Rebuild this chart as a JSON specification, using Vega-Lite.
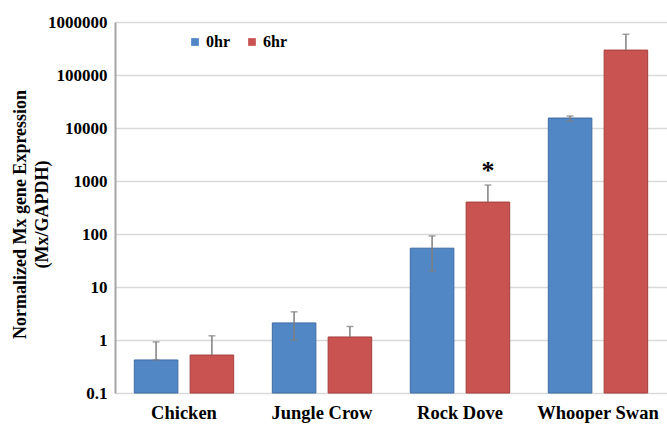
{
  "$schema": "https://vega.github.io/schema/vega-lite/v6.json",
  "width": 552,
  "height": 371,
  "autosize": "none",
  "padding": {"left": 115, "top": 22, "right": 0, "bottom": 32},
  "background": "white",
  "config": {
    "font": "Liberation Serif",
    "view": {"stroke": null}
  },
  "data": {
    "values": [
      {"species": "Chicken", "time": "0hr", "value": 0.42, "hi": 0.92, "lo": 0.42, "sig": ""},
      {"species": "Chicken", "time": "6hr", "value": 0.52, "hi": 1.2, "lo": null, "sig": ""},
      {"species": "Jungle Crow", "time": "0hr", "value": 2.1, "hi": 3.4, "lo": 1.0, "sig": ""},
      {"species": "Jungle Crow", "time": "6hr", "value": 1.14, "hi": 1.8, "lo": null, "sig": ""},
      {"species": "Rock Dove", "time": "0hr", "value": 54, "hi": 92, "lo": 20, "sig": ""},
      {"species": "Rock Dove", "time": "6hr", "value": 400, "hi": 840, "lo": null, "sig": "*"},
      {"species": "Whooper Swan", "time": "0hr", "value": 15400, "hi": 16800, "lo": 13500, "sig": ""},
      {"species": "Whooper Swan", "time": "6hr", "value": 295000, "hi": 590000, "lo": null, "sig": ""}
    ]
  },
  "encoding": {
    "x": {
      "field": "species",
      "type": "nominal",
      "sort": null,
      "scale": {"paddingInner": 0.28, "paddingOuter": 0.14},
      "axis": {
        "title": null,
        "labelAngle": 0,
        "labelFont": "Liberation Serif",
        "labelFontWeight": "bold",
        "labelFontSize": 18.5,
        "labelColor": "black",
        "labelPadding": 10,
        "ticks": false,
        "domain": false
      }
    },
    "xOffset": {
      "field": "time",
      "type": "nominal",
      "scale": {"paddingInner": 0.22, "paddingOuter": 0}
    }
  },
  "layer": [
    {
      "mark": {"type": "bar", "strokeWidth": 1},
      "encoding": {
        "y": {
          "field": "value",
          "type": "quantitative",
          "scale": {"type": "log", "domain": [0.1, 1000000], "nice": false},
          "axis": {
            "values": [0.1, 1, 10, 100, 1000, 10000, 100000, 1000000],
            "format": "~f",
            "title": ["Normalized Mx gene Expression", "(Mx/GAPDH)"],
            "titleFont": "Liberation Serif",
            "titleFontWeight": "bold",
            "titleFontSize": 18,
            "titleColor": "black",
            "titleAngle": -90,
            "titleX": -90,
            "titleY": 192,
            "titleAlign": "center",
            "titleBaseline": "alphabetic",
            "titleLineHeight": 22,
            "labelFont": "Liberation Serif",
            "labelFontWeight": "bold",
            "labelFontSize": 17,
            "labelColor": "black",
            "labelPadding": 8,
            "ticks": false,
            "grid": true,
            "gridColor": "#d9d9d9",
            "gridWidth": 1.5,
            "domain": true,
            "domainColor": "#a6a6a6",
            "domainWidth": 2
          }
        },
        "y2": {"datum": 0.1},
        "color": {
          "field": "time",
          "type": "nominal",
          "scale": {"domain": ["0hr", "6hr"], "range": ["#5287c6", "#c95350"]},
          "legend": {
            "title": null,
            "orient": "none",
            "legendX": 72,
            "legendY": 12,
            "direction": "horizontal",
            "symbolType": "square",
            "symbolSize": 60,
            "symbolStrokeWidth": 0,
            "labelFont": "Liberation Serif",
            "labelFontWeight": "bold",
            "labelFontSize": 16,
            "labelColor": "black",
            "labelOffset": 3,
            "columnPadding": 14
          }
        },
        "stroke": {
          "field": "time",
          "type": "nominal",
          "scale": {"domain": ["0hr", "6hr"], "range": ["#3d6aa3", "#a53d3b"]},
          "legend": null
        }
      }
    },
    {
      "mark": {"type": "rule", "color": "#7f7f7f", "strokeWidth": 1.5},
      "encoding": {
        "y": {"field": "value", "type": "quantitative"},
        "y2": {"field": "hi"}
      }
    },
    {
      "transform": [{"filter": "datum.lo != null"}],
      "mark": {"type": "rule", "color": "#7f7f7f", "strokeWidth": 1.5},
      "encoding": {
        "y": {"field": "lo", "type": "quantitative"},
        "y2": {"field": "value"}
      }
    },
    {
      "mark": {"type": "tick", "color": "#7f7f7f", "size": 7, "thickness": 1.5, "orient": "horizontal"},
      "encoding": {
        "y": {"field": "hi", "type": "quantitative"}
      }
    },
    {
      "transform": [{"filter": "datum.lo != null"}],
      "mark": {"type": "tick", "color": "#7f7f7f", "size": 7, "thickness": 1.5, "orient": "horizontal"},
      "encoding": {
        "y": {"field": "lo", "type": "quantitative"}
      }
    },
    {
      "transform": [{"filter": "datum.sig != ''"}],
      "mark": {"type": "text", "font": "Liberation Serif", "fontWeight": "bold", "fontSize": 26, "baseline": "alphabetic", "dy": -6, "color": "black"},
      "encoding": {
        "y": {"field": "hi", "type": "quantitative"},
        "text": {"field": "sig"}
      }
    }
  ]
}
